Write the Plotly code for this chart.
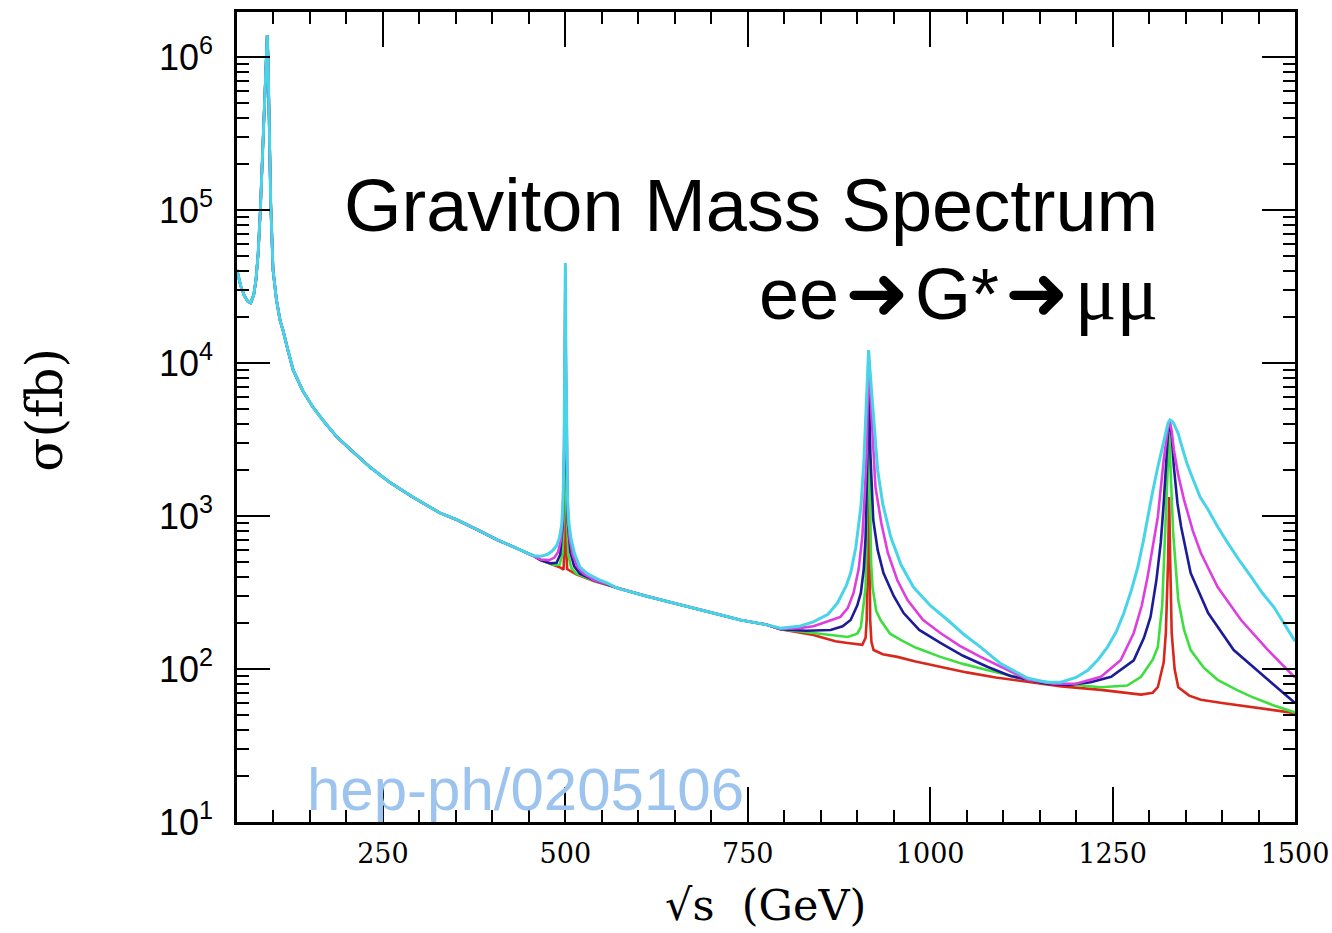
import plotly.graph_objects as go

# ---------------- data ----------------
# common part below the first graviton resonance (all curves coincide)
bg_low_x = [50, 55, 60, 65, 68.8, 73, 76, 79, 82, 84, 86, 87.5, 89, 90.5, 91.4, 92.5, 94.3, 96.2,
            99.4, 104, 109, 113, 120, 127, 140, 154, 170, 187, 210, 232, 260, 291, 328, 352,
            380, 407, 435, 456]
bg_low_y = [40500, 32000, 27500, 25200, 24700, 28000, 35000, 52000, 100000, 182000, 320000,
            500000, 850000, 1250000, 1390000, 1000000, 390000, 111000, 40500, 26000, 19000,
            16400, 12000, 9000, 6600, 5150, 4100, 3280, 2600, 2090, 1650, 1330, 1047, 942,
            810, 697, 610, 550]

# common part between the first and second resonances
bg_mid_x = [571, 610, 648, 700, 740, 775]
bg_mid_y = [338, 300, 270, 235, 209, 195]

# first resonance (~500 GeV)
red_p1_x = [466, 485, 494, 497.5, 499.2, 500, 500.8, 502.5, 506, 515, 540, 557]
red_p1_y = [515, 478, 458, 445, 700, 5000, 700, 450, 440, 415, 375, 355]
green_p1_x = [466, 485, 492, 496, 498.5, 499.6, 500, 500.4, 501.5, 504, 508, 515, 540, 557]
green_p1_y = [515, 478, 480, 560, 1200, 5000, 20000, 5000, 1200, 560, 460, 420, 376, 356]
blue_p1_x = [466, 480, 488, 493, 496.5, 498.5, 499.5, 500, 500.5, 501.5, 503.5, 507, 512, 520, 540, 557]
blue_p1_y = [515, 490, 495, 560, 900, 2500, 9000, 35000, 9000, 2500, 900, 580, 470, 420, 378, 358]
magenta_p1_x = [466, 478, 485, 490, 494, 496.5, 498.3, 499.4, 500, 500.6, 501.7, 503.5, 506, 510,
                516, 525, 540, 557]
magenta_p1_y = [520, 515, 535, 580, 700, 1000, 2800, 12000, 42000, 12000, 2800, 1000, 700, 560,
                470, 420, 380, 360]
cyan_p1_x = [466, 475, 482, 488, 492, 495, 497, 498.3, 499.3, 500, 500.7, 501.7, 503, 505, 508,
             513, 520, 530, 545, 557]
cyan_p1_y = [545, 560, 590, 640, 720, 880, 1300, 3000, 12000, 45000, 12000, 3000, 1300, 880, 700,
             560, 464, 420, 385, 365]

# second (~916 GeV) and third (~1328 GeV) resonances
red_p23_x = [795, 840, 870, 887, 900, 907, 911.5, 913, 914.3, 915.6, 917, 917.8, 919.5, 922.5,
             935, 955, 980, 1014, 1050, 1090, 1134, 1180, 1234, 1270, 1289, 1305, 1312, 1320,
             1323, 1326, 1327.5, 1329, 1331, 1335, 1340, 1355, 1371, 1400, 1440, 1470, 1500]
red_p23_y = [182, 167, 152, 148, 145, 144, 160, 209, 515, 2000, 515, 209, 150, 133, 125, 120,
             112, 103, 95, 88, 82, 77, 73, 70, 68, 70, 76, 110, 172, 500, 1330, 500, 172, 100,
             76, 67, 63, 60, 56.5, 54, 51.5]
green_p23_x = [795, 840, 870, 887, 900, 905, 911.5, 913.5, 914.5, 915.6, 916.8, 917.5, 919, 921,
               926, 932, 945, 959.5, 980, 1014, 1045, 1079, 1110, 1134, 1180, 1234, 1270, 1289,
               1305, 1312, 1318, 1320, 1323, 1326, 1327.5, 1329.5, 1333, 1340, 1348, 1357, 1375,
               1394, 1420, 1440, 1470, 1500]
green_p23_y = [182, 172, 165, 162, 170, 188, 343, 900, 2000, 6000, 2000, 942, 500, 343, 240, 209,
               170, 155, 138, 120, 108, 98, 90, 85, 80, 76, 78, 89, 115, 139, 260, 464, 1200,
               3000, 3500, 2000, 774, 282, 180, 133, 102, 85, 73, 66, 58, 52]
blue_p23_x = [795, 830, 850, 863.5, 880, 891, 900, 905, 909, 911.5, 914, 915.6, 917, 918, 922,
              928, 936, 950, 963.6, 985, 1014, 1045, 1079, 1110, 1134, 1160, 1189, 1220, 1248,
              1279, 1293, 1302, 1310, 1316, 1320, 1323, 1326, 1328.6, 1331, 1334, 1339, 1344,
              1357, 1381, 1416, 1463, 1500]
blue_p23_y = [182, 178, 180, 180, 190, 209, 260, 314, 450, 729, 2500, 10000, 4500, 2570, 942, 600,
              424, 300, 232, 180, 148, 122, 103, 90, 85, 80, 78.6, 82, 89, 114, 160, 219, 380,
              667, 1200, 2090, 3500, 4000, 3300, 2090, 1200, 848, 424, 232, 133, 85, 60]
magenta_p23_x = [795, 820, 840, 860, 877, 887, 895, 902, 907, 910, 913, 915.6, 918, 920, 925,
                 933, 942, 955, 969, 990, 1014, 1040, 1069, 1100, 1134, 1170, 1200, 1234, 1261,
                 1279, 1290, 1298, 1305, 1312, 1320, 1326, 1328.6, 1331, 1334, 1340, 1348, 1360,
                 1371, 1394, 1426, 1463, 1500]
magenta_p23_y = [183, 185, 190, 205, 219, 250, 314, 450, 729, 1300, 2570, 11000, 6000, 4240, 1550,
                 900, 573, 380, 282, 210, 172, 142, 120, 102, 85, 80, 80, 89, 114, 172, 260, 400,
                 620, 985, 2320, 3800, 4100, 3600, 2700, 1850, 1270, 800, 573, 343, 209, 133, 88]
cyan_p23_x = [795, 820, 840, 860, 873, 885, 891, 898, 905, 909, 911.5, 914, 915.6, 917.5, 921,
              924, 928, 935, 946, 960, 977, 1000, 1024, 1045, 1069, 1097, 1134, 1160, 1179, 1200,
              1216, 1230, 1243, 1255, 1265.5, 1276, 1284.6, 1292, 1298, 1305, 1312, 1320, 1326,
              1328.6, 1331, 1334, 1337, 1340, 1344, 1348, 1352, 1357, 1363, 1370, 1381, 1394,
              1408, 1424, 1440, 1455, 1471, 1485, 1500]
cyan_p23_y = [185, 190, 203, 228, 270, 350, 424, 620, 1145, 2200, 4240, 8500, 12160, 9000, 5490,
              3300, 2000, 1200, 729, 480, 343, 260, 209, 170, 139, 108, 87, 82, 82, 88, 98, 115,
              139, 175, 232, 330, 464, 680, 985, 1450, 2090, 3100, 4050, 4240, 4180, 4000, 3750,
              3450, 2950, 2500, 2200, 1900, 1600, 1330, 1100, 850, 665, 510, 400, 315, 254, 200,
              152]

series_names = ["red", "green", "blue", "magenta", "cyan"]
series_colors = ["#d8281c", "#3ede3e", "#1c1c98", "#de3ede", "#48d4e8"]
series_widths = [2.6, 2.6, 2.6, 2.6, 3.0]
p1_x = [red_p1_x, green_p1_x, blue_p1_x, magenta_p1_x, cyan_p1_x]
p1_y = [red_p1_y, green_p1_y, blue_p1_y, magenta_p1_y, cyan_p1_y]
p23_x = [red_p23_x, green_p23_x, blue_p23_x, magenta_p23_x, cyan_p23_x]
p23_y = [red_p23_y, green_p23_y, blue_p23_y, magenta_p23_y, cyan_p23_y]

x_major = [250, 500, 750, 1000, 1250, 1500]
x_minor = [v for v in range(100, 1500, 50) if v % 250 != 0]
y_major = [10, 100, 1000, 10000, 100000, 1000000]
y_major_text = ["10<sup>1</sup>", "10<sup>2</sup>", "10<sup>3</sup>", "10<sup>4</sup>",
                "10<sup>5</sup>", "10<sup>6</sup>"]
y_minor = [k * 10 ** d for d in range(1, 7) for k in range(2, 10) if k * 10 ** d < 1.95e6]

# ---------------- figure ----------------
fig = go.Figure()
for i, name in enumerate(series_names):
    xs = bg_low_x + p1_x[i] + bg_mid_x + p23_x[i]
    ys = bg_low_y + p1_y[i] + bg_mid_y + p23_y[i]
    fig.add_trace(go.Scatter(x=xs, y=ys, mode="lines", name=name,
                             line=dict(color=series_colors[i], width=series_widths[i]),
                             showlegend=False, hoverinfo="skip"))

fig.update_layout(
    width=1332, height=933,
    margin=dict(l=237, r=37, t=12, b=111),
    paper_bgcolor="white", plot_bgcolor="white",
    showlegend=False,
)

fig.update_xaxes(
    range=[50, 1500], tickmode="array", tickvals=x_major,
    ticktext=[str(v) for v in x_major],
    ticks="inside", ticklen=35, tickwidth=2, tickcolor="black",
    showline=True, linecolor="black", linewidth=2.5, mirror="allticks",
    showgrid=False, zeroline=False, automargin=False, ticklabeloverflow="allow",
    tickfont=dict(family="DejaVu Serif", size=27, color="black"),
    ticklabelstandoff=6,
    minor=dict(tickmode="array", tickvals=x_minor, ticks="inside", ticklen=12,
               tickwidth=2, tickcolor="black", showgrid=False),
)
fig.update_yaxes(
    type="log", range=[1, 6.294], tickmode="array", tickvals=y_major, ticktext=y_major_text,
    ticks="inside", ticklen=33, tickwidth=2, tickcolor="black",
    showline=True, linecolor="black", linewidth=2.5, mirror="allticks",
    showgrid=False, zeroline=False, automargin=False, ticklabeloverflow="allow",
    tickfont=dict(family="Liberation Sans", size=36, color="black"),
    ticklabelstandoff=14,
    minor=dict(tickmode="array", tickvals=y_minor, ticks="inside", ticklen=12,
               tickwidth=2, tickcolor="black", showgrid=False),
)

arrow = "\u200a<span style='font-family:DejaVu Sans;font-size:76px'>➜</span>\u200a"
title_text = ("<span style='font-size:74px'>Graviton Mass Spectrum</span><br>"
              "<span style='font-size:72px'>ee" + arrow + "G*" + arrow +
              "<span style='font-family:Liberation Serif;font-size:78px'>μμ</span></span>")
fig.add_annotation(text=title_text, xref="paper", yref="paper", align="right",
                   x=0.8724, y=0.7055, xanchor="right", yanchor="middle", showarrow=False,
                   font=dict(family="Liberation Sans", size=68, color="black"))
fig.add_annotation(text="hep-ph/0205106", xref="paper", yref="paper",
                   x=0.0643, y=0.04, xanchor="left", yanchor="middle", showarrow=False,
                   font=dict(family="Liberation Sans", size=60, color="#9cc4ee"))
fig.add_annotation(text="√s\u00a0\u00a0(GeV)", xref="paper", yref="paper",
                   x=0.4991, y=-0.103, xanchor="center", yanchor="middle", showarrow=False,
                   font=dict(family="DejaVu Serif", size=43, color="black"))
fig.add_annotation(text="σ(fb)", xref="paper", yref="paper", textangle=-90,
                   x=-0.1815, y=0.509, xanchor="center", yanchor="middle", showarrow=False,
                   font=dict(family="DejaVu Serif", size=50, color="black"))

fig.write_html("out.html")
